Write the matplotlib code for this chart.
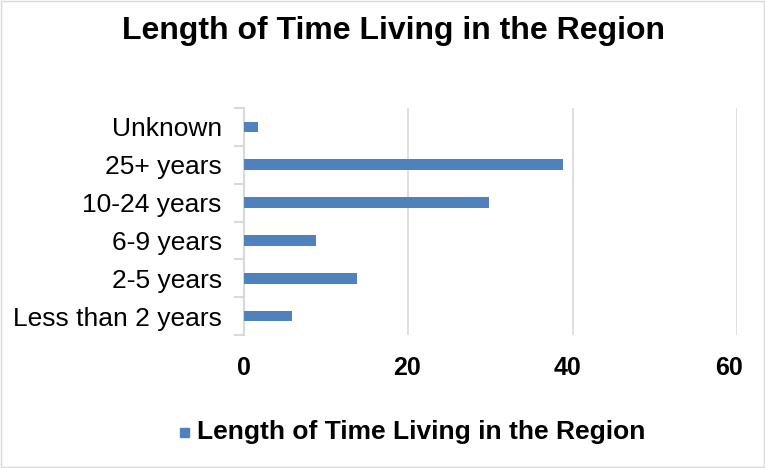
import matplotlib.pyplot as plt
from matplotlib.patches import Rectangle
from matplotlib.transforms import ScaledTranslation

plt.rcParams['font.family'] = ['Liberation Sans', 'DejaVu Sans']

categories = ["Less than 2 years", "2-5 years", "6-9 years", "10-24 years", "25+ years", "Unknown"]
values = [5.8, 13.8, 8.8, 29.8, 38.8, 1.7]
xticks = [0, 20, 40, 60]
title = "Length of Time Living in the Region"

fig = plt.figure(figsize=(7.65, 4.68), dpi=100)
ax = fig.add_axes([244 / 765, 1 - 335 / 468, (737 - 244) / 765, (335 - 108) / 468])

ax.barh(range(len(categories)), values, height=0.28, color="#4f81bd", zorder=3)
ax.set_xlim(0, 60)
ax.set_ylim(-0.5, len(categories) - 0.5)
ax.set_xticks(xticks)
ax.set_xticklabels([str(t) for t in xticks], fontsize=18, fontweight="bold")
ax.set_yticks(range(len(categories)))
ax.set_yticklabels(categories, fontsize=19)
ax.tick_params(axis="y", length=0, pad=16)
ax.tick_params(axis="x", length=0, pad=15)
ax.set_yticks([i - 0.5 for i in range(len(categories) + 1)], minor=True)
ax.tick_params(axis="y", which="minor", length=7, color="#d9d9d9", width=1.5)
ax.grid(axis="x", color="#d9d9d9", linewidth=1.2, zorder=0)
for s in ["top", "right", "bottom"]:
    ax.spines[s].set_visible(False)
ax.spines["left"].set_color("#d9d9d9")
ax.spines["left"].set_linewidth(1.5)

# x labels sit a little left of their gridlines in the original
for lab, dx in zip(ax.get_xticklabels(), [-0.5, -1.5, -5, -7.5]):
    lab.set_transform(lab.get_transform() + ScaledTranslation(dx / 100, 0, fig.dpi_scale_trans))

fig.text(394 / 765, 1 - 31 / 468, title, ha="center", va="center", fontsize=23, fontweight="bold")

# legend
fig.patches.append(Rectangle((180 / 765, 1 - 437 / 468), 9 / 765, 9 / 468,
                             transform=fig.transFigure, color="#4f81bd"))
fig.text(197 / 765, 1 - 432 / 468, title, ha="left", va="center", fontsize=19, fontweight="bold")

fig.patches.append(Rectangle((1 / 765, 1 / 468), 763 / 765, 466 / 468, transform=fig.transFigure,
                             fill=False, edgecolor="#d9d9d9", linewidth=1))

fig.savefig("out.png", dpi=100)
